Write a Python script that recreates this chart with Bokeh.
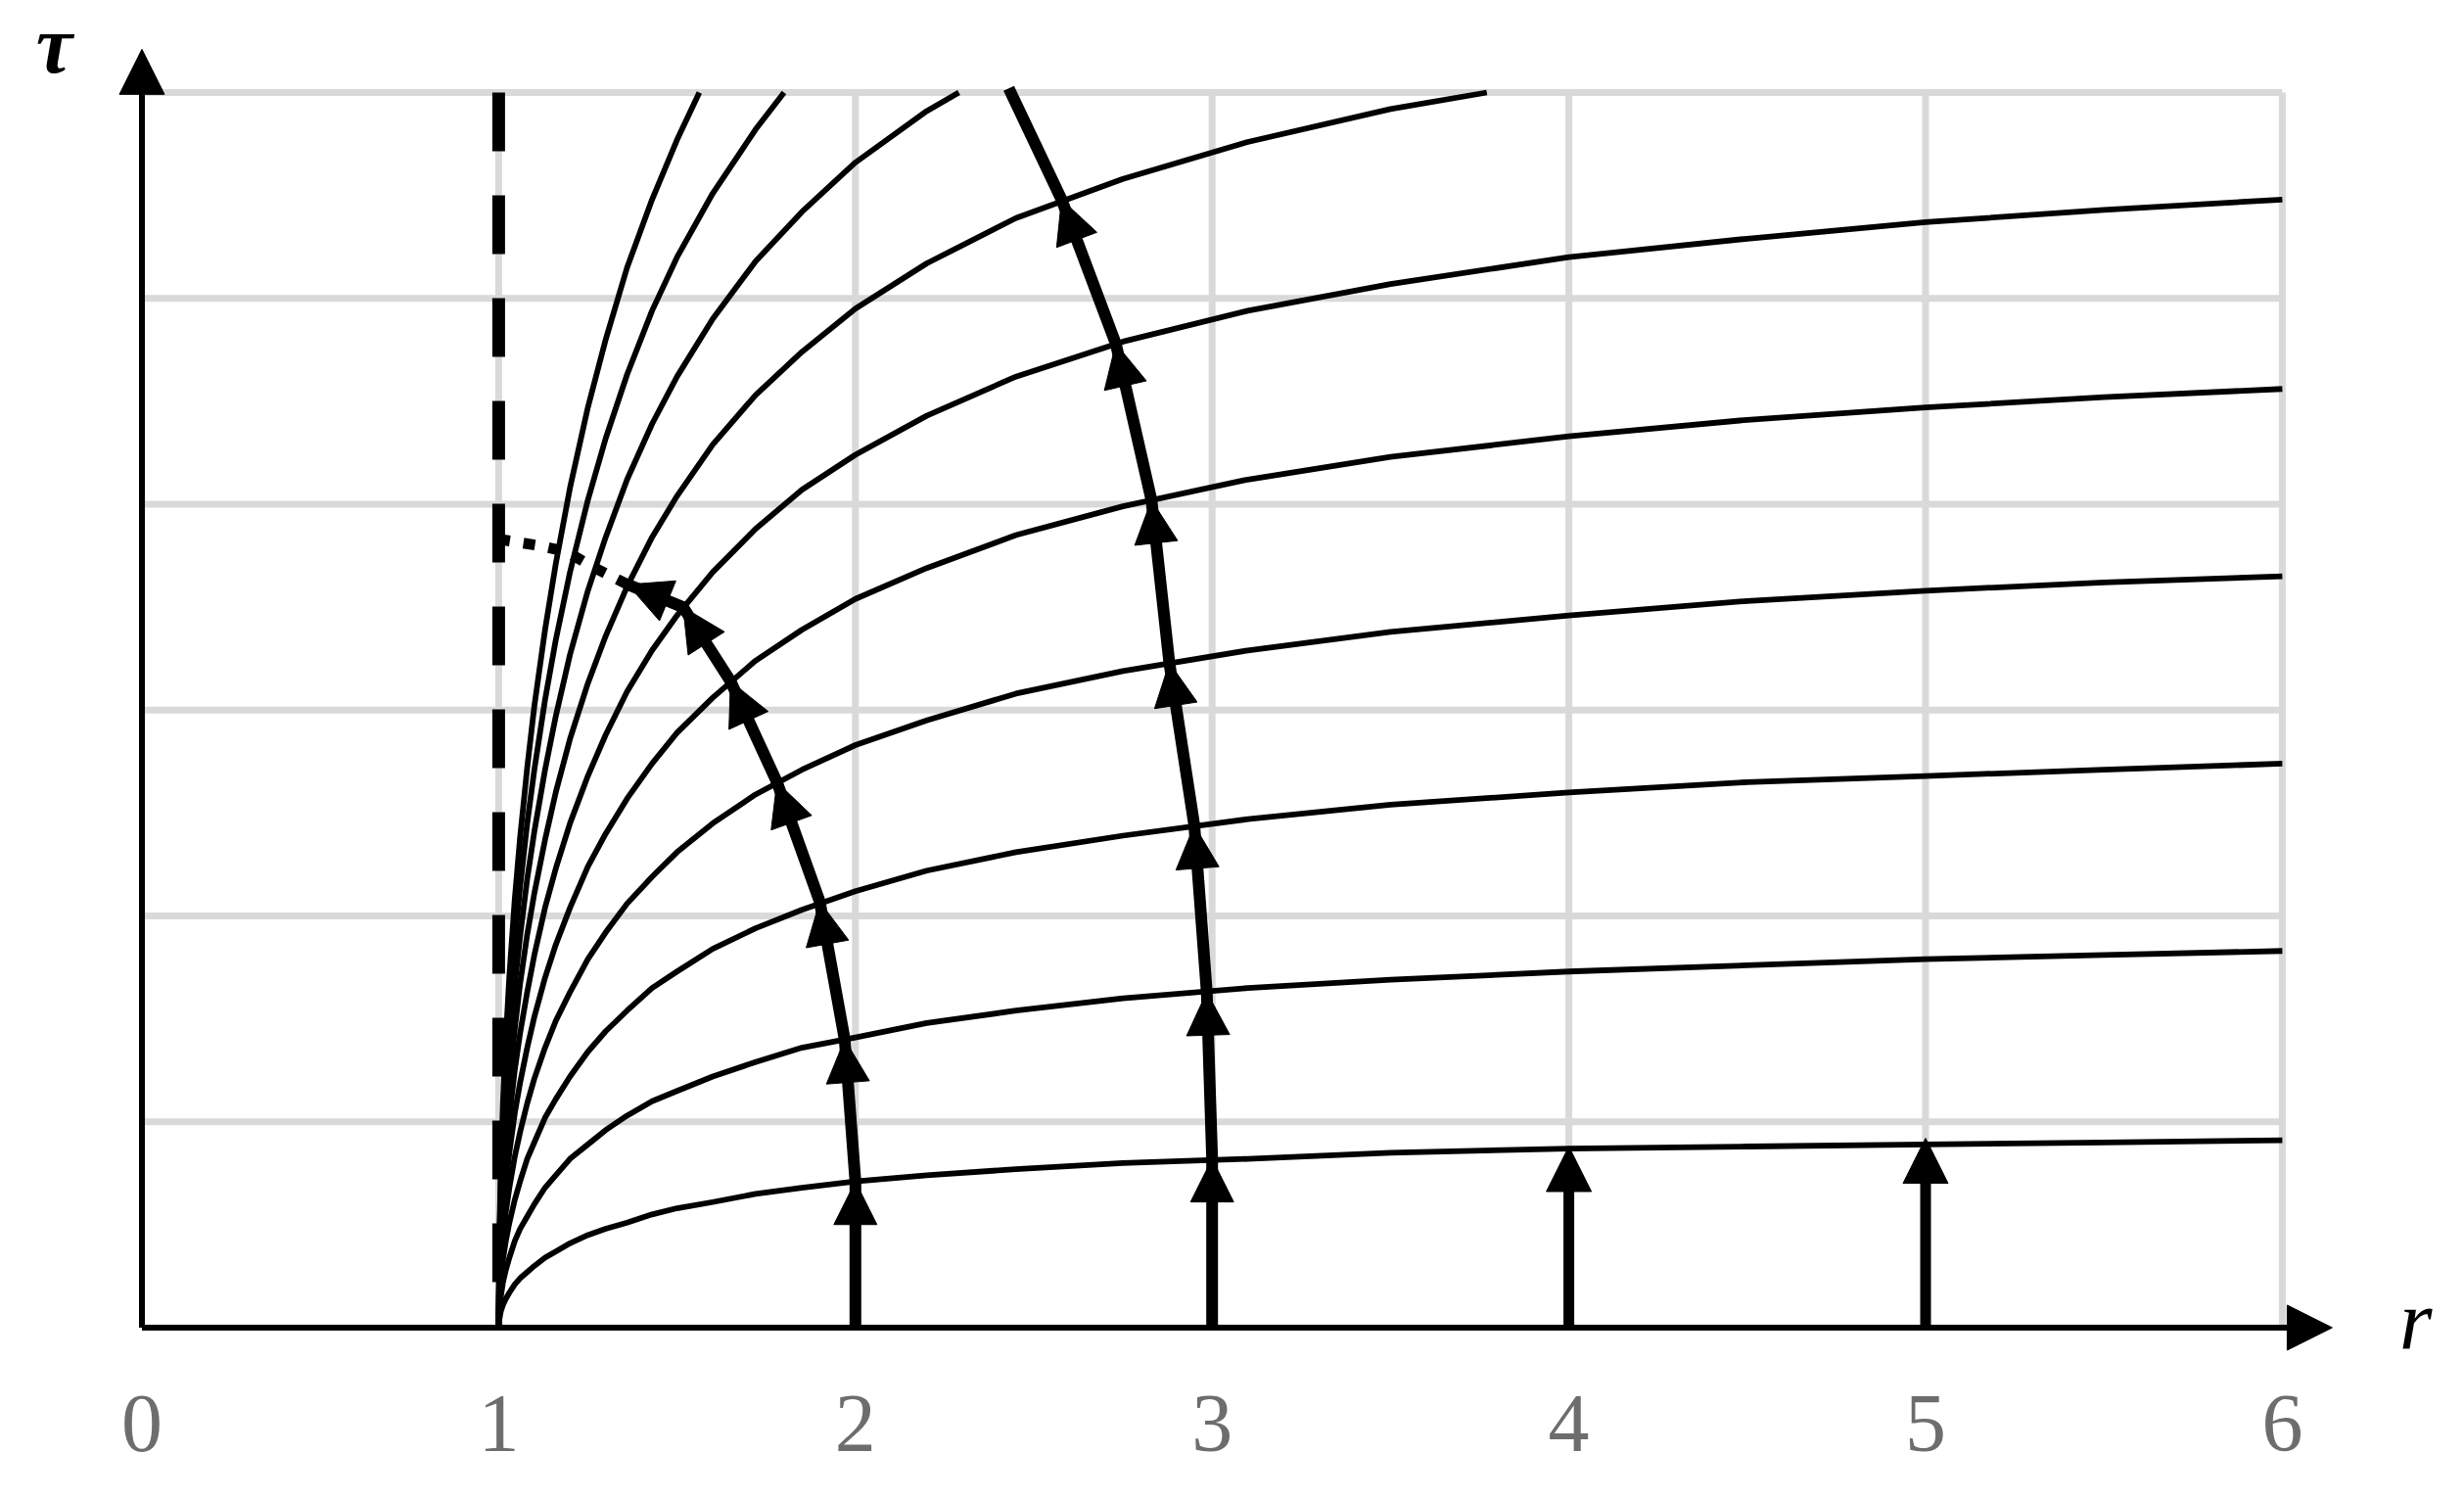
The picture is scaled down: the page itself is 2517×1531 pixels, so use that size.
from bokeh.plotting import figure
from bokeh.models import Range1d, Arrow, NormalHead, ColumnDataSource, Label
from bokeh.embed import file_html
from bokeh.resources import INLINE

# ---------------- data ----------------
r_ticks = [0, 1, 2, 3, 4, 5, 6]
r_tick_labels = ["0", "1", "2", "3", "4", "5", "6"]
tau_grid = [1, 2, 3, 4, 5, 6]

# family of thin curves (tau against r), all starting at r = 1
curve_r = [1.0, 1.002, 1.006, 1.012, 1.02, 1.03, 1.045, 1.06, 1.08, 1.1, 1.13, 1.16,
           1.2, 1.25, 1.3, 1.36, 1.43, 1.5, 1.6, 1.72, 1.85, 2.0, 2.2, 2.45, 2.75,
           3.1, 3.5, 4.0, 4.5, 5.0, 5.5, 6.0]
tau_c1 = [0, 0.04, 0.08, 0.11, 0.14, 0.17, 0.21, 0.24, 0.27, 0.30, 0.34, 0.37, 0.41,
          0.45, 0.48, 0.51, 0.55, 0.58, 0.61, 0.65, 0.68, 0.71, 0.74, 0.77, 0.80, 0.82,
          0.85, 0.87, 0.88, 0.89, 0.90, 0.91]
tau_c2 = [0, 0.09, 0.15, 0.22, 0.28, 0.34, 0.42, 0.48, 0.54, 0.60, 0.68, 0.74, 0.82,
          0.89, 0.96, 1.03, 1.10, 1.15, 1.22, 1.29, 1.36, 1.41, 1.48, 1.54, 1.60, 1.65,
          1.69, 1.73, 1.76, 1.79, 1.81, 1.83]
tau_c3 = [0, 0.13, 0.23, 0.33, 0.42, 0.51, 0.62, 0.71, 0.82, 0.90, 1.02, 1.11, 1.22,
          1.34, 1.44, 1.54, 1.65, 1.73, 1.84, 1.94, 2.03, 2.12, 2.22, 2.31, 2.39, 2.47,
          2.54, 2.60, 2.65, 2.68, 2.71, 2.74]
tau_c4 = [0, 0.18, 0.31, 0.44, 0.56, 0.68, 0.83, 0.95, 1.09, 1.21, 1.36, 1.49, 1.63,
          1.79, 1.92, 2.06, 2.19, 2.31, 2.45, 2.59, 2.71, 2.83, 2.95, 3.08, 3.19, 3.29,
          3.38, 3.46, 3.53, 3.58, 3.62, 3.65]
tau_c5 = [0, 0.22, 0.39, 0.54, 0.70, 0.85, 1.04, 1.19, 1.36, 1.51, 1.70, 1.86, 2.04,
          2.24, 2.40, 2.57, 2.74, 2.89, 3.06, 3.24, 3.39, 3.54, 3.69, 3.85, 3.99, 4.12,
          4.23, 4.33, 4.41, 4.47, 4.52, 4.56]
tau_c6 = [0, 0.27, 0.46, 0.65, 0.84, 1.02, 1.25, 1.43, 1.63, 1.81, 2.04, 2.23, 2.45,
          2.68, 2.88, 3.09, 3.29, 3.46, 3.67, 3.88, 4.07, 4.24, 4.43, 4.62, 4.79, 4.94,
          5.07, 5.20, 5.29, 5.37, 5.43, 5.48]
# the upper curves leave the top of the grid (tau = 6) at these r values
tau_c7 = [0, 0.31, 0.54, 0.76, 0.98, 1.19, 1.45, 1.67, 1.91, 2.11, 2.37, 2.60, 2.86,
          3.13, 3.36, 3.60, 3.84, 4.04, 4.29, 4.53, 4.74, 4.95, 5.17, 5.39, 5.58, 5.76,
          5.92, 6.0]
r_c7 = curve_r[:27] + [3.77]
tau_c8 = [0, 0.36, 0.62, 0.87, 1.12, 1.37, 1.66, 1.90, 2.18, 2.41, 2.71, 2.97, 3.27,
          3.58, 3.84, 4.12, 4.39, 4.62, 4.90, 5.18, 5.42, 5.66, 5.91, 6.0]
r_c8 = curve_r[:23] + [2.29]
tau_c9 = [0, 0.40, 0.70, 0.98, 1.26, 1.54, 1.87, 2.14, 2.45, 2.71, 3.05, 3.34, 3.67,
          4.02, 4.32, 4.63, 4.94, 5.20, 5.51, 5.82, 6.0]
r_c9 = curve_r[:20] + [1.8]
tau_c10 = [0, 0.45, 0.77, 1.09, 1.40, 1.71, 2.08, 2.38, 2.72, 3.02, 3.39, 3.71, 4.08,
           4.47, 4.80, 5.15, 5.48, 5.77, 6.0]
r_c10 = curve_r[:18] + [1.5625]

# thick arrowed path starting at r = 2
path_a_r = [2.0, 2.0, 1.97, 1.90, 1.78, 1.65, 1.517, 1.362]
path_a_tau = [0.0, 0.71, 1.40, 2.07, 2.65, 3.14, 3.50, 3.61]
# its dotted continuation to the dashed line
dot_r = [1.362, 1.27, 1.19, 1.11, 1.0]
dot_tau = [3.61, 3.69, 3.77, 3.80, 3.83]

# thick arrowed path starting at r = 3
path_b_r = [3.0, 3.0, 2.985, 2.95, 2.88, 2.83, 2.73, 2.578, 2.43]
path_b_tau = [0.0, 0.82, 1.63, 2.44, 3.23, 4.02, 4.78, 5.48, 6.02]

# short vertical arrows
vert_r = [4, 5]
vert_top = [0.88, 0.92]

# dashed boundary r = 1
dash_r = 1.0

# ---------------- figure ----------------
p = figure(width=2501, height=1515, output_backend="svg", toolbar_location=None,
           x_range=Range1d(-0.39654, 6.46680), y_range=Range1d(-0.75862, 6.44709),
           x_axis_location=None, y_axis_location=None, min_border=0)
p.xgrid.visible = False
p.ygrid.visible = False
p.outline_line_color = None
p.background_fill_color = "white"
p.border_fill_color = "white"

grid_color = "#d9d9d9"
n_h = len(tau_grid)
p.segment(x0=[r_ticks[0]] * n_h, y0=tau_grid, x1=[r_ticks[-1]] * n_h, y1=tau_grid,
          line_color=grid_color, line_width=7)
p.segment(x0=r_ticks[1:], y0=[0] * (len(r_ticks) - 1), x1=r_ticks[1:],
          y1=[tau_grid[-1]] * (len(r_ticks) - 1), line_color=grid_color, line_width=7)

curves = [(curve_r, tau_c1), (curve_r, tau_c2), (curve_r, tau_c3),
          (curve_r, tau_c4), (curve_r, tau_c5), (curve_r, tau_c6),
          (r_c7, tau_c7), (r_c8, tau_c8), (r_c9, tau_c9), (r_c10, tau_c10)]
for cr, ct in curves:
    p.line(cr, ct, line_color="black", line_width=5.8, line_join="round")

# dashed line r = 1
p.line([dash_r, dash_r], [tau_grid[-1], 0], line_color="black", line_width=13,
       line_dash="60 45")

# thick paths
p.line(path_a_r, path_a_tau, line_color="black", line_width=12, line_join="round")
p.line(dot_r, dot_tau, line_color="black", line_width=11, line_dash="12 14")
p.line(path_b_r, path_b_tau, line_color="black", line_width=12, line_join="round")

# vertical arrows shafts
p.segment(x0=vert_r, y0=[0] * len(vert_r), x1=vert_r, y1=[t - 0.1 for t in vert_top],
          line_color="black", line_width=11)


def add_heads(x0, y0, x1, y1, size):
    src = ColumnDataSource(dict(x0=x0, y0=y0, x1=x1, y1=y1))
    p.add_layout(Arrow(end=NormalHead(size=size, fill_color="black", line_color="black",
                                      line_width=1),
                       x_start="x0", y_start="y0", x_end="x1", y_end="y1",
                       source=src, line_alpha=0))


for pr, pt in [(path_a_r, path_a_tau), (path_b_r[:-1], path_b_tau[:-1])]:
    add_heads(pr[:-1], pt[:-1], pr[1:], pt[1:], 44)

add_heads(vert_r, [0] * len(vert_r), vert_r, vert_top, 46)

# axes with arrows
p.line([0, 6.1], [0, 0], line_color="black", line_width=6)
p.line([0, 0], [0, 6.17], line_color="black", line_width=6)
add_heads([0, 0], [0, 0], [6.14, 0], [0, 6.21], 46)

# tick labels
for xv, lab in zip(r_ticks, r_tick_labels):
    p.add_layout(Label(x=xv, y=-0.464, text=lab, text_font="Liberation Serif",
                       text_font_size="84px", text_color="#6d6d6d",
                       text_align="center", text_baseline="middle"))

# axis titles
p.add_layout(Label(x=-0.2456, y=6.233, text="τ", text_font="Liberation Serif",
                   text_font_style="bold italic", text_font_size="84px",
                   text_color="black", text_align="center", text_baseline="middle"))
p.add_layout(Label(x=6.374, y=0.031, text="r", text_font="Liberation Serif",
                   text_font_style="italic", text_font_size="86px",
                   text_color="black", text_align="center", text_baseline="middle"))

open("out.html", "w").write(file_html(p, INLINE))
